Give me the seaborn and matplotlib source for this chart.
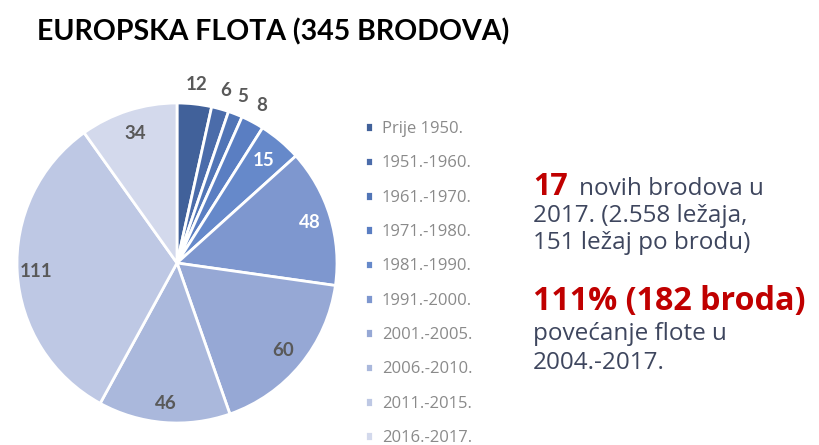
# Europska flota - pie by decade of build

import matplotlib
matplotlib.use("Agg")
import matplotlib.pyplot as plt
import seaborn as sns
import numpy as np

# data
periods = ["Prije 1950.", "1951.-1960.", "1961.-1970.", "1971.-1980.", "1981.-1990.",
           "1991.-2000.", "2001.-2005.", "2006.-2010.", "2011.-2015.", "2016.-2017."]
ships = [12, 6, 5, 8, 15, 48, 60, 46, 111, 34]

title = "EUROPSKA FLOTA (345 BRODOVA)"

sns.set_theme(style="white")
plt.rcParams["font.family"] = ["Lato", "DejaVu Sans"]

colors = ["#41619A", "#4B6CAA", "#5175B6", "#5A7EC2", "#6689CA", "#7E97CF",
          "#96A8D5", "#AAB8DC", "#BEC8E4", "#D3D9EC"]
label_colors = ["#595959"] * 4 + ["white", "white"] + ["#595959"] * 4
label_radius = [1.12] * 4 + [0.84, 0.87, 0.86, 0.88, 0.88, 0.85]

fig = plt.figure(figsize=(8.2, 4.45), dpi=100)
ax = fig.add_axes([17 / 820, 22 / 445, 320 / 820, 320 / 445])
wedges, _ = ax.pie(ships, colors=colors, startangle=90, counterclock=False,
                   wedgeprops=dict(edgecolor="white", linewidth=2))
ax.set_xlim(-1, 1)
ax.set_ylim(-1, 1)
ax.set_aspect("equal")

for w, v, c, r in zip(wedges, ships, label_colors, label_radius):
    ang = np.deg2rad((w.theta1 + w.theta2) / 2)
    ax.text(r * np.cos(ang), r * np.sin(ang), str(v), ha="center", va="center",
            fontsize=13.5, fontweight="bold", color=c)

fig.text(37 / 820, 1 - 40 / 445, title, fontsize=20.5, fontweight="bold",
         color="black", va="baseline")

leg = fig.legend(wedges, periods, loc="upper left", bbox_to_anchor=(350 / 820, 1 - 106 / 445),
                 frameon=False, prop={"family": "Open Sans", "size": 12},
                 handlelength=0.5, handleheight=0.5,
                 handletextpad=0.5, labelspacing=1.1, labelcolor="#8A8A8A")

# right side text
red = "#C00000"
dark = "#3E465E"
fam = ["Open Sans", "DejaVu Sans"]
x0 = 533 / 820
fig.canvas.draw()
r = fig.canvas.get_renderer()
t = fig.text(x0, 1 - 195 / 445, "17", fontsize=22, fontweight="bold", color=red,
             va="baseline", family=fam)
bb = t.get_window_extent(renderer=r)
fig.text((bb.x1 + 11) / 820, 1 - 195 / 445, "novih brodova u", fontsize=17.5, color=dark,
         va="baseline", family=fam)
fig.text(x0, 1 - 222 / 445, "2017. (2.558 ležaja,", fontsize=17.5, color=dark, va="baseline", family=fam)
fig.text(x0, 1 - 249 / 445, "151 ležaj po brodu)", fontsize=17.5, color=dark, va="baseline", family=fam)
fig.text(x0, 1 - 310 / 445, "111% (182 broda)", fontsize=23.2, fontweight="bold", color=red,
         va="baseline", family=fam)
fig.text(x0, 1 - 340 / 445, "povećanje flote u", fontsize=17.5, color=dark, va="baseline", family=fam)
fig.text(x0, 1 - 369 / 445, "2004.-2017.", fontsize=17.5, color=dark, va="baseline", family=fam)

fig.savefig("out.png", dpi=100)
